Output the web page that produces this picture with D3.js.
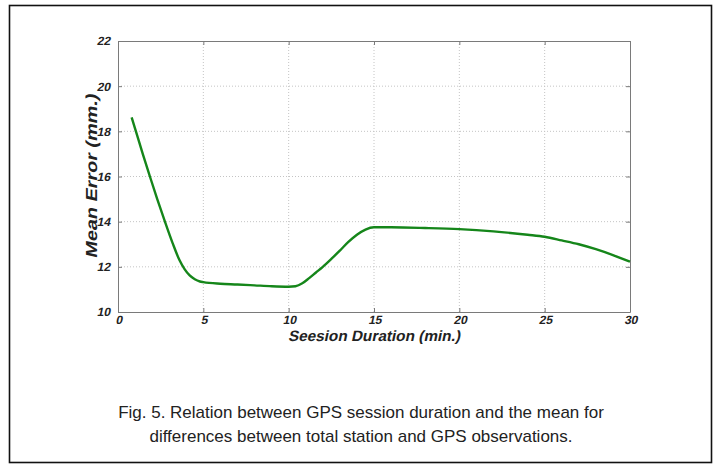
<!DOCTYPE html>
<html>
<head>
<meta charset="utf-8">
<script src="https://cdn.jsdelivr.net/npm/d3@7"></script>
<style>
  body { margin: 0; background: #fff; }
  svg { display: block; }
</style>
</head>
<body>
<svg id="chart"></svg>
<script>
// session duration (min.) and mean error (mm.)
const duration = [0.8, 1.05, 1.45, 1.87, 2.3, 2.75, 3.2, 3.6, 3.9, 4.2, 4.5, 4.8, 5, 6, 7, 8, 9, 10, 10.4, 10.8, 11.2, 11.6, 12, 12.5, 13, 13.5, 14, 14.5, 15, 16, 18, 20, 22, 24, 25, 26, 27, 28, 29, 30]
const meanError = [18.62, 18.0, 17.0, 16.0, 15.0, 14.0, 13.05, 12.3, 11.9, 11.62, 11.45, 11.35, 11.32, 11.25, 11.22, 11.18, 11.14, 11.12, 11.14, 11.27, 11.5, 11.75, 12.0, 12.35, 12.72, 13.1, 13.42, 13.65, 13.75, 13.75, 13.72, 13.67, 13.57, 13.42, 13.33, 13.17, 13.0, 12.78, 12.52, 12.23]
const xTicks = [0, 5, 10, 15, 20, 25, 30]
const yTicks = [10, 12, 14, 16, 18, 20, 22]
const captionLines = [
    'Fig. 5. Relation between GPS session duration and the mean for',
    'differences between total station and GPS observations.'
]

const W = 720, H = 469
const margin = { top: 41, right: 90, bottom: 157, left: 118 }
const width = W - margin.left - margin.right
const height = H - margin.top - margin.bottom

// bold upright face, slanted by hand (an italic face falls back to DejaVu)
const labelFamily = '"Liberation Sans", Arial, sans-serif'
const slant = 'skewX(-12)'

const svg = d3.select('#chart').attr('width', W).attr('height', H)

// outer frame of the figure
svg.append('rect')
    .attr('x', 9.5).attr('y', 5.5)
    .attr('width', 702).attr('height', 457)
    .attr('fill', 'none').attr('stroke', '#111').attr('stroke-width', 1.6)

const g = svg.append('g').attr('transform', `translate(${margin.left},${margin.top})`)

const x = d3.scaleLinear().domain([0, 30]).range([0, width])
const y = d3.scaleLinear().domain([10, 22]).range([height, 0])

// dotted grid
g.append('g').selectAll('line')
    .data(xTicks.slice(1, -1))
    .join('line')
    .attr('x1', d => x(d)).attr('x2', d => x(d))
    .attr('y1', 0).attr('y2', height)
    .attr('stroke', '#c4c4c4').attr('stroke-dasharray', '1,2')
g.append('g').selectAll('line')
    .data(yTicks.slice(1, -1))
    .join('line')
    .attr('x1', 0).attr('x2', width)
    .attr('y1', d => y(d)).attr('y2', d => y(d))
    .attr('stroke', '#c4c4c4').attr('stroke-dasharray', '1,2')

// axes with inward ticks, MATLAB style
const xAxis = g.append('g')
    .attr('transform', `translate(0,${height})`)
    .call(d3.axisBottom(x).tickValues(xTicks).tickSizeInner(-4).tickSizeOuter(0).tickPadding(7))
const xAxisTop = g.append('g')
    .call(d3.axisTop(x).tickValues(xTicks).tickSizeInner(-4).tickSizeOuter(0).tickFormat(''))
const yAxis = g.append('g')
    .call(d3.axisLeft(y).tickValues(yTicks).tickSizeInner(-4).tickSizeOuter(0).tickPadding(7))
const yAxisRight = g.append('g')
    .attr('transform', `translate(${width},0)`)
    .call(d3.axisRight(y).tickValues(yTicks).tickSizeInner(-4).tickSizeOuter(0).tickFormat(''))

;[xAxis, xAxisTop, yAxis, yAxisRight].forEach(a => {
    a.select('.domain').attr('stroke', '#7a7a7a')
    a.selectAll('.tick line').attr('stroke', '#7a7a7a')
    a.selectAll('.tick text')
        .attr('font-family', labelFamily)
        .attr('font-size', 12)
        .attr('font-weight', 'bold')
        .attr('fill', '#222')
        .attr('transform', slant)
})
xAxis.selectAll('.tick text').attr('dy', '0.45em').attr('dx', 3)

// the curve
const line = d3.line()
    .x((d, i) => x(duration[i]))
    .y(d => y(d))
    .curve(d3.curveMonotoneX)

g.append('path')
    .datum(meanError)
    .attr('d', line)
    .attr('fill', 'none')
    .attr('stroke', '#15861a')
    .attr('stroke-width', 2.4)

// axis titles
g.append('text')
    .attr('transform', `translate(${x(15)},${height + 29}) ${slant}`)
    .attr('text-anchor', 'middle')
    .attr('textLength', 172).attr('lengthAdjust', 'spacingAndGlyphs')
    .attr('font-family', labelFamily)
    .attr('font-size', 15).attr('font-weight', 'bold')
    .attr('fill', '#222')
    .text('Seesion Duration (min.)')

g.append('text')
    .attr('transform', `translate(-21,${height / 2}) rotate(-90) ${slant}`)
    .attr('text-anchor', 'middle')
    .attr('textLength', 164).attr('lengthAdjust', 'spacingAndGlyphs')
    .attr('font-family', labelFamily)
    .attr('font-size', 16).attr('font-weight', 'bold')
    .attr('fill', '#222')
    .text('Mean Error (mm.)')

// caption
svg.append('g').selectAll('text')
    .data(captionLines)
    .join('text')
    .attr('x', 361).attr('y', (d, i) => 418 + i * 24)
    .attr('text-anchor', 'middle')
    .attr('font-family', '"Liberation Sans", Arial, sans-serif')
    .attr('font-size', 17)
    .attr('fill', '#222')
    .text(d => d)
</script>
</body>
</html>
